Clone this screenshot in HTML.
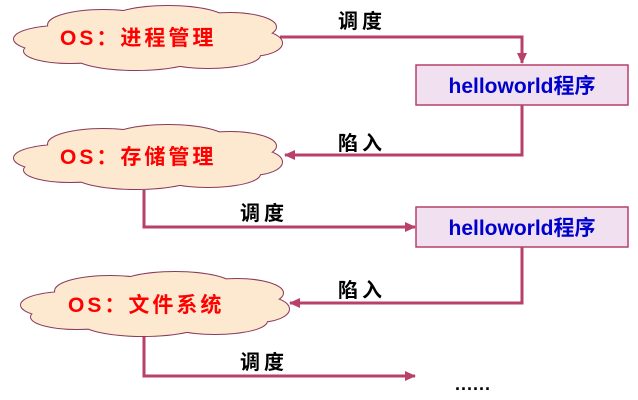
<!DOCTYPE html>
<html><head><meta charset="utf-8"><style>
html,body{margin:0;padding:0;background:#fff;width:638px;height:400px;overflow:hidden}
text{font-family:"Liberation Sans","Noto Sans CJK SC",sans-serif;font-weight:bold}
</style></head><body>
<svg width="638" height="400" viewBox="0 0 638 400" xmlns="http://www.w3.org/2000/svg">
<defs>
<g id="lobes">
<ellipse cx="52" cy="34" rx="46" ry="13"/>
<ellipse cx="95" cy="20" rx="55" ry="15"/>
<ellipse cx="160" cy="15" rx="58" ry="14"/>
<ellipse cx="222" cy="22" rx="46" ry="14"/>
<ellipse cx="242" cy="38" rx="32" ry="13"/>
<ellipse cx="200" cy="50" rx="52" ry="13"/>
<ellipse cx="128" cy="51" rx="62" ry="14"/>
<ellipse cx="62" cy="46" rx="46" ry="12"/>
<ellipse cx="136" cy="33" rx="112" ry="22"/>
</g>
<g id="cloud">
<use href="#lobes" fill="none" stroke="#8a3a5c" stroke-width="2"/>
<use href="#lobes" fill="#fde9cf" stroke="none"/>
</g>
<marker id="ar" markerWidth="12" markerHeight="12" refX="10" refY="5" orient="auto" markerUnits="userSpaceOnUse">
<path d="M0,0 L11,5 L0,10 z" fill="#b8406a"/>
</marker>
</defs>

<g fill="none" stroke="#b8406a" stroke-width="3">
<polyline points="280,37 522,37 522,63" marker-end="url(#ar)"/>
<polyline points="522,105 522,155 285,155" marker-end="url(#ar)"/>
<polyline points="144,190 144,227 415,227" marker-end="url(#ar)"/>
<polyline points="522,247 522,303 290,303" marker-end="url(#ar)"/>
<polyline points="144,336 144,376 415,376" marker-end="url(#ar)"/>
</g>

<use href="#cloud" transform="translate(8,5)"/>
<use href="#cloud" transform="translate(8,124)"/>
<use href="#cloud" transform="translate(15,271)"/>

<text x="60" y="45" font-size="21" fill="#ff0000" letter-spacing="3">OS：进程管理</text>
<text x="60" y="164" font-size="21" fill="#ff0000" letter-spacing="3">OS：存储管理</text>
<text x="68" y="312" font-size="21" fill="#ff0000" letter-spacing="3">OS：文件系统</text>

<rect x="416" y="65" width="212" height="40" fill="#f0e0f0" stroke="#b8406a" stroke-width="1.5"/>
<rect x="416" y="207" width="212" height="40" fill="#f0e0f0" stroke="#b8406a" stroke-width="1.5"/>
<text x="522" y="93" font-size="21" fill="#0000cc" text-anchor="middle">helloworld程序</text>
<text x="522" y="235" font-size="21" fill="#0000cc" text-anchor="middle">helloworld程序</text>

<text x="338" y="28" font-size="20" fill="#000" letter-spacing="4">调度</text>
<text x="338" y="150" font-size="20" fill="#000" letter-spacing="4">陷入</text>
<text x="240" y="220" font-size="20" fill="#000" letter-spacing="4">调度</text>
<text x="338" y="297" font-size="20" fill="#000" letter-spacing="4">陷入</text>
<text x="240" y="369" font-size="20" fill="#000" letter-spacing="4">调度</text>
<text x="455" y="390" font-size="18" fill="#000" letter-spacing="1">......</text>
</svg>
</body></html>
